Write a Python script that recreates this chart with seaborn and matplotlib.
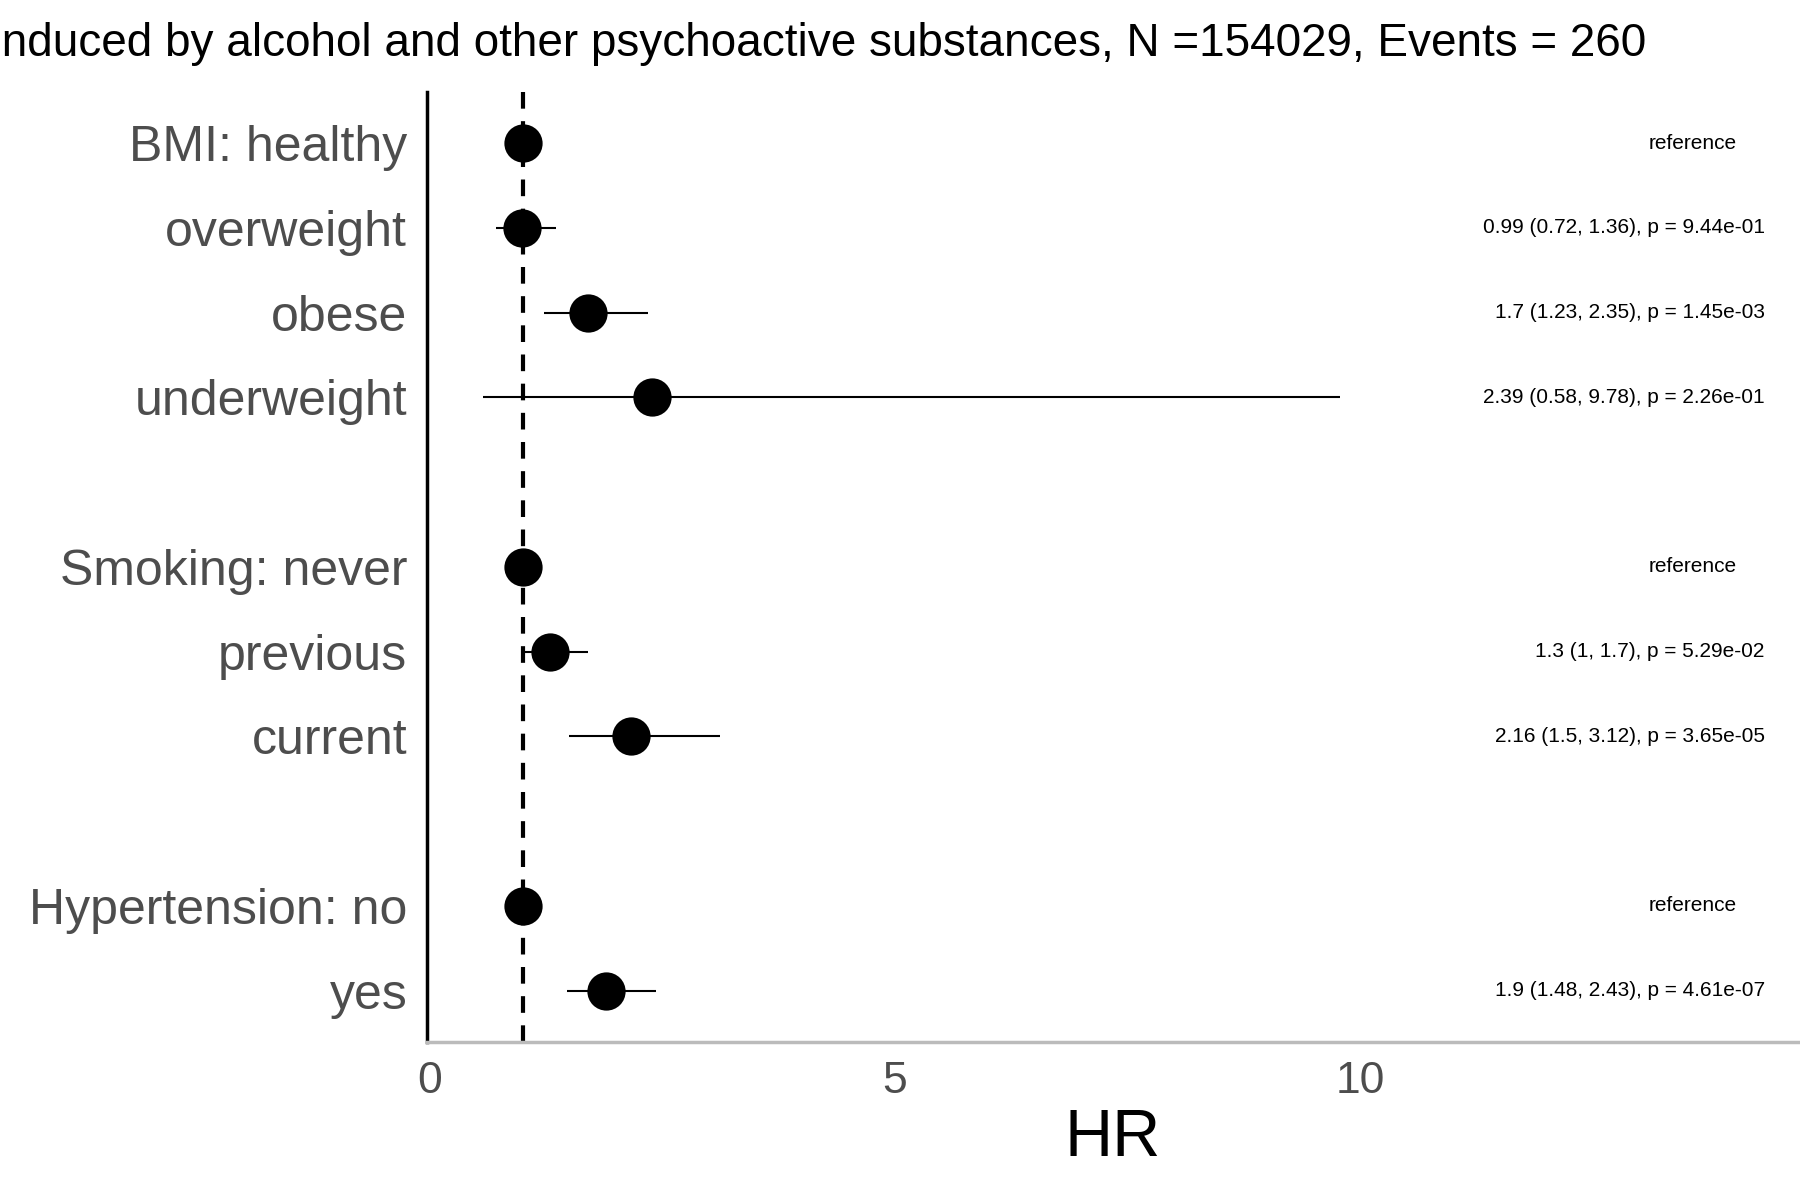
import numpy as np
import pandas as pd
import matplotlib.pyplot as plt
import seaborn as sns

plt.rcParams["font.family"] = "Liberation Sans"

# data
labels = ["BMI: healthy", "overweight", "obese", "underweight",
          "Smoking: never", "previous", "current",
          "Hypertension: no", "yes"]
rows = [0, 1, 2, 3, 5, 6, 7, 9, 10]
hr = [1.0, 0.99, 1.7, 2.39, 1.0, 1.3, 2.16, 1.0, 1.9]
lo = [1.0, 0.72, 1.23, 0.58, 1.0, 1.0, 1.5, 1.0, 1.48]
hi = [1.0, 1.36, 2.35, 9.78, 1.0, 1.7, 3.12, 1.0, 2.43]
notes = ["reference", "0.99 (0.72, 1.36), p = 9.44e-01", "1.7 (1.23, 2.35), p = 1.45e-03",
         "2.39 (0.58, 9.78), p = 2.26e-01", "reference", "1.3 (1, 1.7), p = 5.29e-02",
         "2.16 (1.5, 3.12), p = 3.65e-05", "reference", "1.9 (1.48, 2.43), p = 4.61e-07"]

df = pd.DataFrame({"label": labels, "row": rows, "hr": hr, "lo": lo, "hi": hi, "note": notes})

fig = plt.figure(figsize=(18, 12), dpi=100)
ax = fig.add_axes([0.237, 0.132, 0.762, 0.791])

ax.hlines(df["row"], df["lo"], df["hi"], color="black", lw=1.5, zorder=2)
sns.scatterplot(data=df, x="hr", y="row", ax=ax, color="black", s=650,
                edgecolor="black", zorder=3, legend=False)
ax.axvline(1, color="black", ls=(0, (4, 3)), lw=3, zorder=1)

for _, r in df.iterrows():
    if r["note"] == "reference":
        ax.text(13.57, r["row"], r["note"], ha="center", va="center", fontsize=15)
    else:
        ax.text(14.34, r["row"], r["note"], ha="right", va="center", fontsize=15)

ax.set_xlim(-0.03, 14.7)
ax.set_ylim(10.6, -0.6)
ax.set_yticks(df["row"])
ax.set_yticklabels(df["label"], fontsize=36, color="#4d4d4d")
ax.set_xticks([0, 5, 10])
ax.set_xticklabels(["0", "5", "10"], fontsize=32, color="#4d4d4d")
ax.tick_params(length=0, pad=14)
ax.set_xlabel("HR", fontsize=48)
ax.set_ylabel("")
for s in ["top", "right"]:
    ax.spines[s].set_visible(False)
ax.spines["left"].set_linewidth(2.5)
ax.spines["bottom"].set_color("#bbbbbb")
ax.spines["bottom"].set_linewidth(2.5)

fig.text(-0.006, 0.963, "Induced by alcohol and other psychoactive substances, N =154029, Events = 260",
         ha="left", va="center", fontsize=33)

fig.savefig("out.png", dpi=100)
